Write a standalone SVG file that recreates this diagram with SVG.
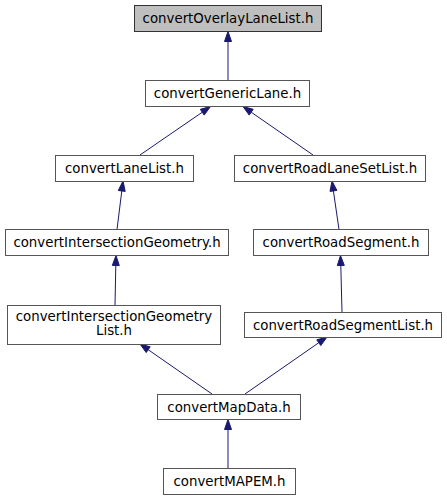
<svg xmlns="http://www.w3.org/2000/svg" width="447" height="500" viewBox="0 0 447 500">
<style>
.n rect{fill:#ffffff;stroke:#555555;stroke-width:1}
.n.h rect{fill:#bfbfbf;stroke:#333333}
.n text{font-family:"DejaVu Sans",sans-serif;font-size:13.33px;fill:#000000;text-anchor:middle}
.e line{stroke:#191970;stroke-width:1}
.e polygon{fill:#191970;stroke:#191970;stroke-width:1}
</style>
<rect width="447" height="500" fill="#ffffff"/>
<g id="edges" class="e">
<line x1="228" y1="80" x2="228" y2="41.5"/><polygon points="228,31.5 224.5,41.5 231.5,41.5"/>
<line x1="140" y1="155" x2="202.3" y2="112.2"/><polygon points="210.5,106.5 204.2,115.1 200.3,109.3"/>
<line x1="313" y1="155" x2="251.2" y2="112.2"/><polygon points="243,106.5 249.2,115.1 253.2,109.3"/>
<line x1="117" y1="229.5" x2="121.8" y2="190.9"/><polygon points="123,181 125.2,191.4 118.3,190.5"/>
<line x1="339" y1="229.5" x2="333.4" y2="190.9"/><polygon points="332,181 330,191.4 336.9,190.4"/>
<line x1="115" y1="305" x2="115.8" y2="265.5"/><polygon points="116,255.5 112.3,265.4 119.3,265.6"/>
<line x1="342" y1="312" x2="340.8" y2="265.5"/><polygon points="340.5,255.5 337.3,265.6 344.3,265.4"/>
<line x1="212" y1="394" x2="148.2" y2="349.7"/><polygon points="140,344 146.2,352.6 150.2,346.8"/>
<line x1="245" y1="394" x2="318.8" y2="342.7"/><polygon points="327,337 320.8,345.6 316.8,339.8"/>
<line x1="228" y1="468" x2="228" y2="429.5"/><polygon points="228,419.5 224.5,429.5 231.5,429.5"/>
</g>
<g id="node1" class="n h"><rect x="134.5" y="5.5" width="187" height="26"/><text x="228" y="23">convertOverlayLaneList.h</text></g>
<g id="node2" class="n"><rect x="145.5" y="80.5" width="164" height="26"/><text x="227.5" y="98">convertGenericLane.h</text></g>
<g id="node3" class="n"><rect x="55.5" y="155.5" width="138" height="26"/><text x="124.5" y="173">convertLaneList.h</text></g>
<g id="node4" class="n"><rect x="234.5" y="155.5" width="191" height="26"/><text x="330" y="173">convertRoadLaneSetList.h</text></g>
<g id="node5" class="n"><rect x="5.5" y="229.5" width="223" height="26"/><text x="117" y="247">convertIntersectionGeometry.h</text></g>
<g id="node6" class="n"><rect x="253.5" y="229.5" width="175" height="26"/><text x="341" y="247">convertRoadSegment.h</text></g>
<g id="node7" class="n"><rect x="7.5" y="305.5" width="213" height="39"/><text x="114" y="321">convertIntersectionGeometry</text><text x="114" y="335">List.h</text></g>
<g id="node8" class="n"><rect x="244.5" y="312.5" width="197" height="25"/><text x="343" y="330">convertRoadSegmentList.h</text></g>
<g id="node9" class="n"><rect x="157.5" y="394.5" width="143" height="25"/><text x="229" y="412">convertMapData.h</text></g>
<g id="node10" class="n"><rect x="163.5" y="468.5" width="132" height="26"/><text x="229.5" y="486">convertMAPEM.h</text></g>
</svg>
